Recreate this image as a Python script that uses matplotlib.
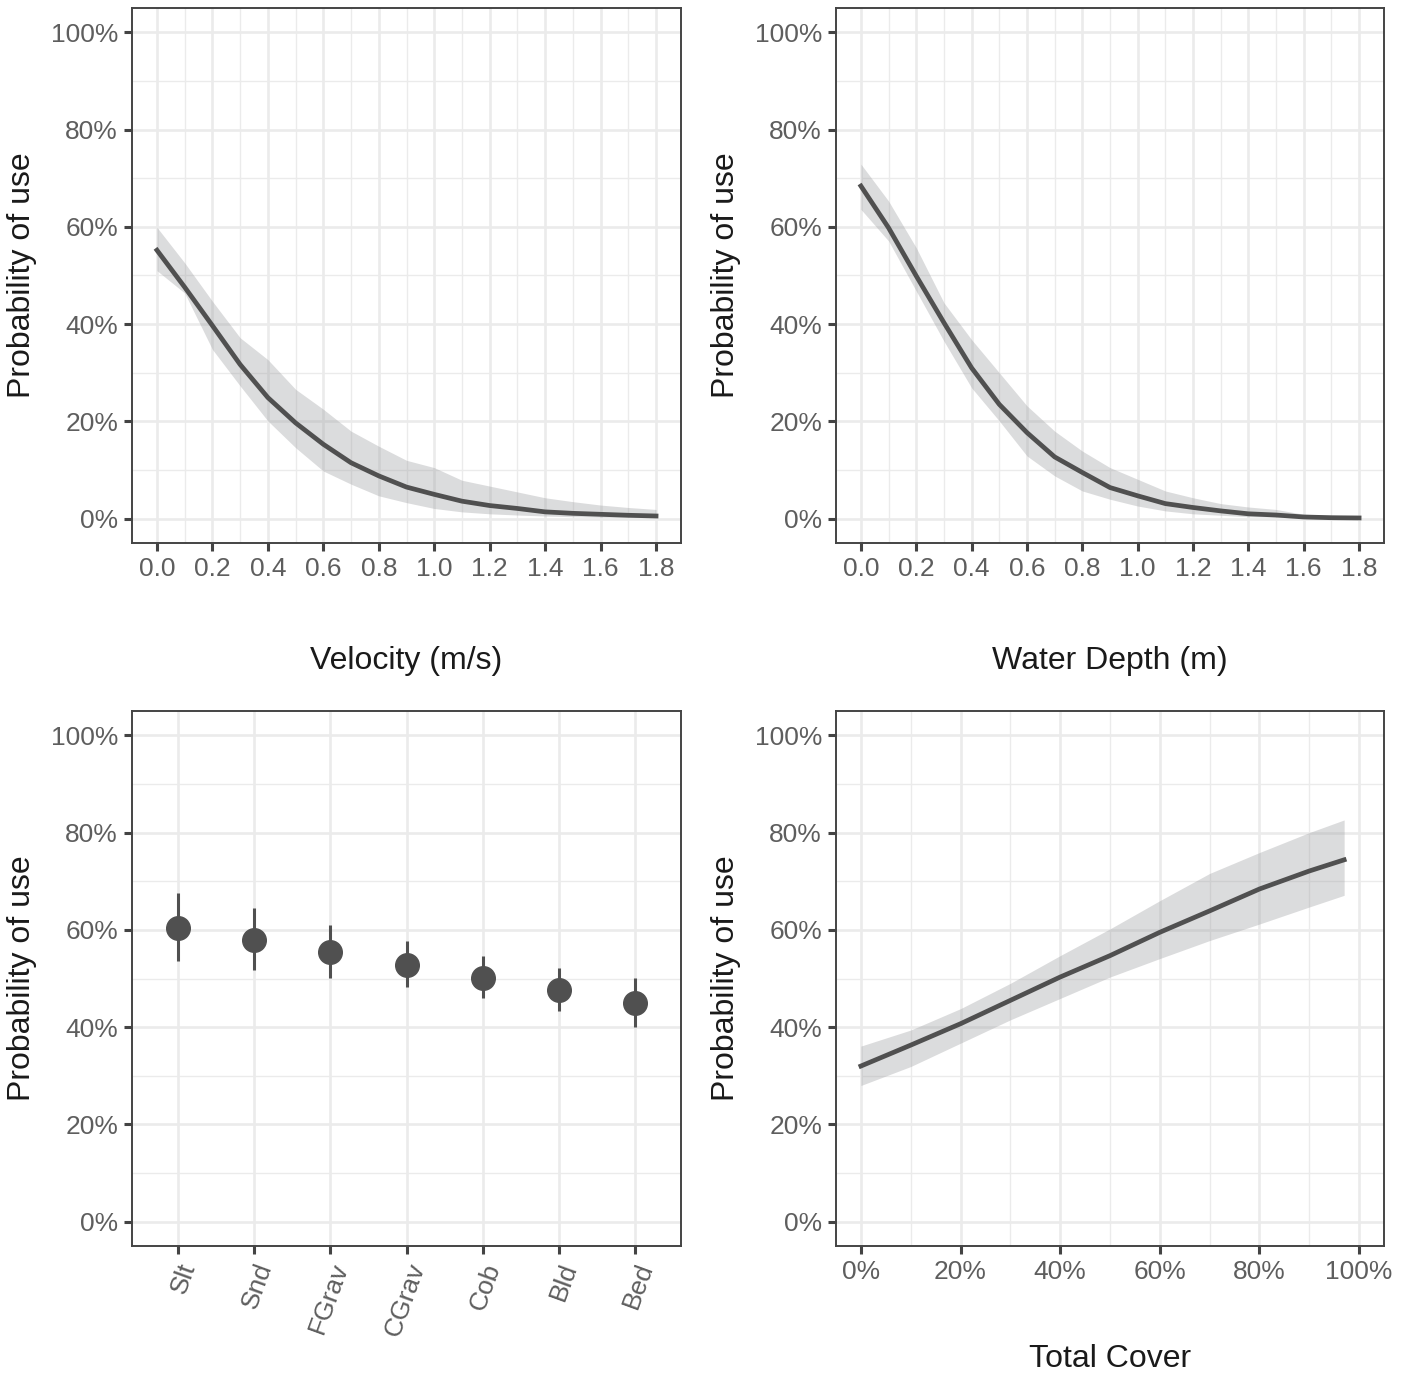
import matplotlib
matplotlib.use("Agg")
import matplotlib.pyplot as plt
from matplotlib.ticker import MultipleLocator, PercentFormatter, FormatStrFormatter
import numpy as np

plt.rcParams['font.family'] = ['Liberation Sans', 'DejaVu Sans']

# velocity effect (probability of use, %)
velocity = [0.0, 0.1, 0.2, 0.3, 0.4, 0.5, 0.6, 0.7, 0.8, 0.9,
            1.0, 1.1, 1.2, 1.3, 1.4, 1.5, 1.6, 1.7, 1.8]
vel_fit = [55.2, 47.6, 39.7, 31.7, 24.9, 19.7, 15.3, 11.5, 8.8, 6.5,
           5.0, 3.6, 2.7, 2.1, 1.4, 1.1, 0.9, 0.7, 0.55]
vel_lo = [51.0, 46.4, 34.8, 27.3, 20.1, 14.6, 9.8, 7.1, 4.7, 3.3,
          2.1, 1.4, 1.0, 0.75, 0.55, 0.4, 0.3, 0.25, 0.2]
vel_hi = [59.9, 52.6, 44.7, 37.2, 32.7, 26.6, 22.5, 18.0, 14.9, 12.0,
          10.5, 7.9, 6.7, 5.5, 4.3, 3.5, 2.8, 2.3, 1.9]

# water depth effect
depth = [0.0, 0.1, 0.2, 0.3, 0.4, 0.5, 0.6, 0.7, 0.8, 0.9,
         1.0, 1.1, 1.2, 1.3, 1.4, 1.5, 1.6, 1.7, 1.8]
depth_fit = [68.4, 59.8, 49.9, 40.3, 31.0, 23.5, 17.7, 12.7, 9.5, 6.4,
             4.7, 3.1, 2.3, 1.6, 1.0, 0.75, 0.35, 0.2, 0.15]
depth_lo = [63.6, 57.1, 46.8, 36.5, 26.9, 20.1, 12.9, 8.8, 5.7, 4.0,
            2.6, 1.6, 1.0, 0.7, 0.4, 0.3, 0.15, 0.1, 0.05]
depth_hi = [72.9, 65.3, 55.7, 44.4, 36.8, 30.0, 23.2, 18.0, 13.9, 10.5,
            8.1, 5.7, 4.3, 3.1, 2.4, 1.9, 0.9, 0.7, 0.55]

# substrate classes
substrate = ["Slt", "Snd", "FGrav", "CGrav", "Cob", "Bld", "Bed"]
sub_fit = [60.3, 57.9, 55.4, 52.8, 50.1, 47.6, 44.9]
sub_lo = [53.5, 51.8, 50.1, 48.3, 46.0, 43.3, 40.0]
sub_hi = [67.6, 64.5, 61.0, 57.8, 54.6, 52.2, 50.1]

# total cover (%)
cover = [0, 10, 20, 30, 40, 50, 60, 70, 80, 90, 97]
cover_fit = [32.0, 36.3, 40.7, 45.5, 50.3, 54.7, 59.5, 63.9, 68.4, 72.1, 74.4]
cover_lo = [28.0, 31.9, 36.7, 41.5, 45.9, 50.3, 54.1, 57.8, 61.2, 64.7, 67.1]
cover_hi = [36.1, 39.4, 43.8, 49.0, 54.7, 60.2, 66.0, 71.6, 75.9, 80.0, 82.6]

LINE = "#505050"
RIBBON = "#9a9b9e"
GRID = "#ebebeb"
TICKTXT = "#5e5e5e"
BORDER = "#444444"


def style(ax, xlabel, ypos=-0.22):
    ax.set_ylim(-5, 105)
    ax.yaxis.set_major_locator(MultipleLocator(20))
    ax.yaxis.set_minor_locator(MultipleLocator(10))
    ax.yaxis.set_major_formatter(PercentFormatter(100, decimals=0))
    ax.set_axisbelow(True)
    ax.grid(which="major", color=GRID, lw=1.9)
    ax.grid(which="minor", color=GRID, lw=1.0)
    ax.tick_params(which="major", direction="out", length=6, width=2.2,
                   color=BORDER, labelsize=19, labelcolor=TICKTXT, pad=4)
    ax.tick_params(which="minor", length=0)
    for s in ax.spines.values():
        s.set_color(BORDER)
        s.set_linewidth(1.4)
    ax.set_ylabel("Probability of use", fontsize=23, color="#1a1a1a")
    ax.yaxis.set_label_coords(-0.2, 0.5)
    ax.yaxis.label.set_va("center")
    if xlabel:
        ax.set_xlabel(xlabel, fontsize=23, color="#1a1a1a")
        ax.xaxis.set_label_coords(0.5, ypos)
        ax.xaxis.label.set_va("center")


fig = plt.figure(figsize=(14.11, 13.75), dpi=100)
W, H = 1411, 1375


def box(x0, y0, x1, y1):
    return [x0 / W, 1 - y1 / H, (x1 - x0) / W, (y1 - y0) / H]


ax1 = fig.add_axes(box(132, 8, 681, 543))
ax2 = fig.add_axes(box(836, 8, 1384, 543))
ax3 = fig.add_axes(box(132, 711, 681, 1246))
ax4 = fig.add_axes(box(836, 711, 1384, 1246))

# velocity
ax1.fill_between(velocity, vel_lo, vel_hi, color=RIBBON, alpha=0.35, lw=0, zorder=2)
ax1.plot(velocity, vel_fit, color=LINE, lw=3.4, zorder=3)
ax1.set_xlim(-0.09, 1.89)
ax1.xaxis.set_major_locator(MultipleLocator(0.2))
ax1.xaxis.set_minor_locator(MultipleLocator(0.1))
ax1.xaxis.set_major_formatter(FormatStrFormatter("%.1f"))
style(ax1, "Velocity (m/s)")

# depth
ax2.fill_between(depth, depth_lo, depth_hi, color=RIBBON, alpha=0.35, lw=0, zorder=2)
ax2.plot(depth, depth_fit, color=LINE, lw=3.4, zorder=3)
ax2.set_xlim(-0.09, 1.89)
ax2.xaxis.set_major_locator(MultipleLocator(0.2))
ax2.xaxis.set_minor_locator(MultipleLocator(0.1))
ax2.xaxis.set_major_formatter(FormatStrFormatter("%.1f"))
style(ax2, "Water Depth (m)")

# substrate
xs = np.arange(1, len(substrate) + 1)
ax3.vlines(xs, sub_lo, sub_hi, color=LINE, lw=2.2, zorder=3)
ax3.plot(xs, sub_fit, "o", color=LINE, ms=17, zorder=4)
ax3.set_xlim(0.4, len(substrate) + 0.6)
ax3.set_xticks(xs)
ax3.set_xticklabels(substrate, rotation=70, ha="right", va="top",
                    rotation_mode="anchor")
style(ax3, None)

# total cover
ax4.fill_between(cover, cover_lo, cover_hi, color=RIBBON, alpha=0.35, lw=0, zorder=2)
ax4.plot(cover, cover_fit, color=LINE, lw=3.4, zorder=3)
ax4.set_xlim(-5, 105)
ax4.xaxis.set_major_locator(MultipleLocator(20))
ax4.xaxis.set_minor_locator(MultipleLocator(10))
ax4.xaxis.set_major_formatter(PercentFormatter(100, decimals=0))
style(ax4, "Total Cover", ypos=-0.212)

fig.savefig("out.png", dpi=100, facecolor="white")
